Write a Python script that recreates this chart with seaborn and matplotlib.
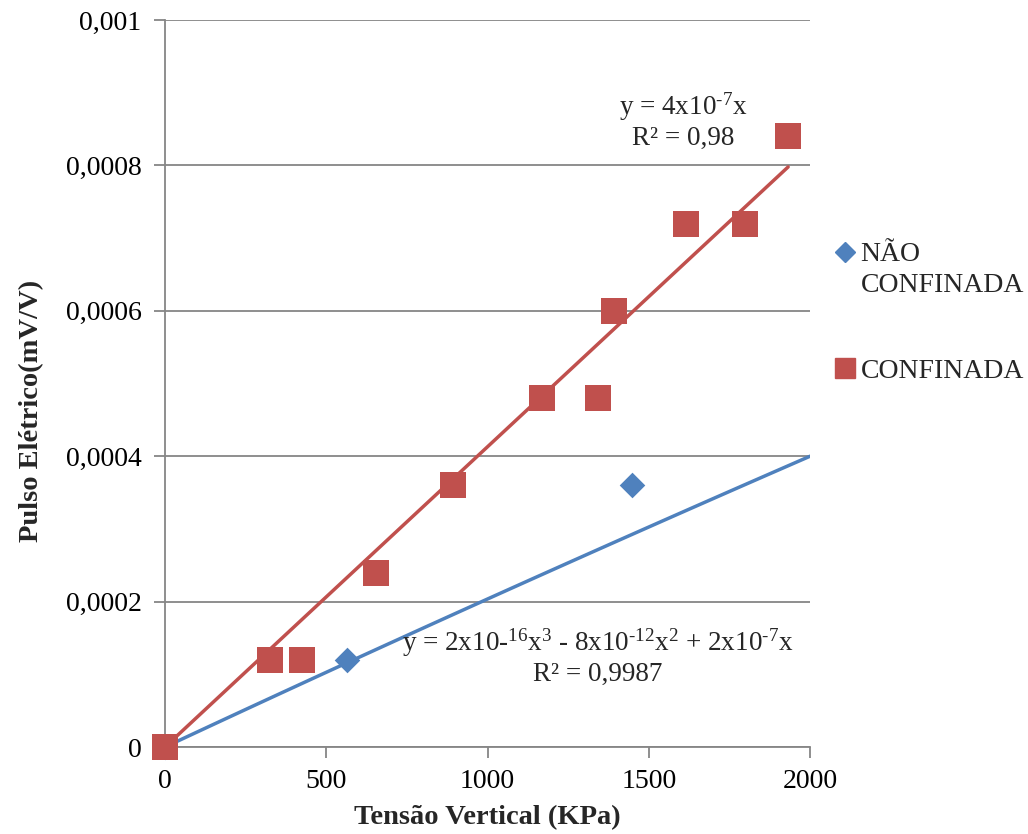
import numpy as np
import pandas as pd
import matplotlib
matplotlib.use("Agg")
import matplotlib.pyplot as plt
from matplotlib.lines import Line2D
import seaborn as sns

# -----------------------------
# Data
# -----------------------------
conf_x = [0, 326, 425, 654, 893, 1169, 1343, 1392, 1615, 1798, 1932]
conf_y = [0, 0.00012, 0.00012, 0.00024, 0.00036, 0.00048, 0.00048, 0.0006, 0.00072, 0.00072, 0.00084]

nconf_x = [0, 564, 1448]
nconf_y = [0, 0.00012, 0.00036]

# trendlines as drawn
conf_slope = 4.13e-7
conf_trend_x = [0, 1932]
nconf_coef = [2e-16, -4.2e-12, 2.076e-7, 0]
nconf_trend_x = [0, 2000]

x_ticks = [0, 500, 1000, 1500, 2000]
y_ticks = [0, 0.0002, 0.0004, 0.0006, 0.0008, 0.001]
y_labels = ["0", "0,0002", "0,0004", "0,0006", "0,0008", "0,001"]

red = "#C0504D"
blue = "#4F81BD"
grid_c = "#868686"

# -----------------------------
# Style
# -----------------------------
sns.set_style("white")
plt.rcParams["font.family"] = ["Liberation Serif", "DejaVu Serif"]
plt.rcParams["mathtext.fontset"] = "custom"
plt.rcParams["mathtext.rm"] = "Liberation Serif"
plt.rcParams["mathtext.default"] = "regular"

fig = plt.figure(figsize=(10.28, 8.34), dpi=100)
ax = fig.add_axes([0.1605, 0.1043, 0.6275, 0.8717])

# trendlines
tx = np.linspace(conf_trend_x[0], conf_trend_x[1], 50)
sns.lineplot(x=tx, y=conf_slope * tx, color=red, linewidth=2.5, ax=ax, zorder=2)
bx = np.linspace(nconf_trend_x[0], nconf_trend_x[1], 100)
sns.lineplot(x=bx, y=np.polyval(nconf_coef, bx), color=blue, linewidth=2.5, ax=ax, zorder=2)

# points
sns.scatterplot(x=nconf_x, y=nconf_y, marker="D", s=170, color=blue,
                edgecolor=blue, linewidth=0, ax=ax, zorder=3, legend=False)
sns.scatterplot(x=conf_x, y=conf_y, marker="s", s=330, color=red,
                edgecolor=red, linewidth=0, ax=ax, zorder=4, legend=False)
for c in ax.collections:
    c.set_clip_on(False)

ax.set_xlim(0, 2000)
ax.set_ylim(0, 0.001)
ax.set_xticks(x_ticks)
ax.set_xticklabels([str(v) for v in x_ticks])
ax.set_yticks(y_ticks)
ax.set_yticklabels(y_labels)
ax.tick_params(axis="both", labelsize=20, colors=grid_c, length=8, width=1.3,
               direction="out")
ax.tick_params(axis="y", pad=9)
ax.tick_params(axis="x", pad=8)
for lab in ax.get_xticklabels() + ax.get_yticklabels():
    lab.set_color("black")
ax.tick_params(axis="both", left=True, bottom=True)

ax.yaxis.grid(True, color=grid_c, linewidth=1.3)
ax.xaxis.grid(False)
ax.set_axisbelow(True)
for s in ["top", "right"]:
    ax.spines[s].set_visible(False)
for s in ["left", "bottom"]:
    ax.spines[s].set_color(grid_c)
    ax.spines[s].set_linewidth(1.3)

ax.set_xlabel("Tensão Vertical (KPa)", fontsize=20.5, fontweight="bold", labelpad=8)
ax.set_ylabel("Pulso Elétrico(mV/V)", fontsize=20.5, fontweight="bold")
ax.yaxis.set_label_coords(-0.187, 0.462)

# equations
ax.text(1606, 0.000862, "y = 4x10$^{\\text{-7}}$x\nR² = 0,98", fontsize=19.5,
        ha="center", va="center", linespacing=1.15)
ax.text(1342, 0.000124,
        "y = 2x10-$^{16}$x$^{3}$ - 8x10$^{\\text{-12}}$x$^{2}$ + 2x10$^{\\text{-7}}$x\nR² = 0,9987",
        fontsize=19.5, ha="center", va="center", linespacing=1.15)

# legend: diamond beside first line of a two-line label
h1 = [Line2D([], [], marker="D", color=blue, linestyle="none", markersize=10),
      Line2D([], [], marker="none", linestyle="none")]
leg1 = ax.legend(h1, ["NÃO", "CONFINADA"], loc="upper left",
                 bbox_to_anchor=(1.016, 0.71), frameon=False, fontsize=20,
                 handletextpad=0.05, labelspacing=0.18, handlelength=1.0,
                 borderaxespad=0)
ax.add_artist(leg1)
h2 = [Line2D([], [], marker="s", color=red, linestyle="none", markersize=14)]
ax.legend(h2, ["CONFINADA"], loc="upper left", bbox_to_anchor=(1.016, 0.55),
          frameon=False, fontsize=20, handletextpad=0.05, handlelength=1.0,
          borderaxespad=0)

plt.savefig("out.png", dpi=100)
